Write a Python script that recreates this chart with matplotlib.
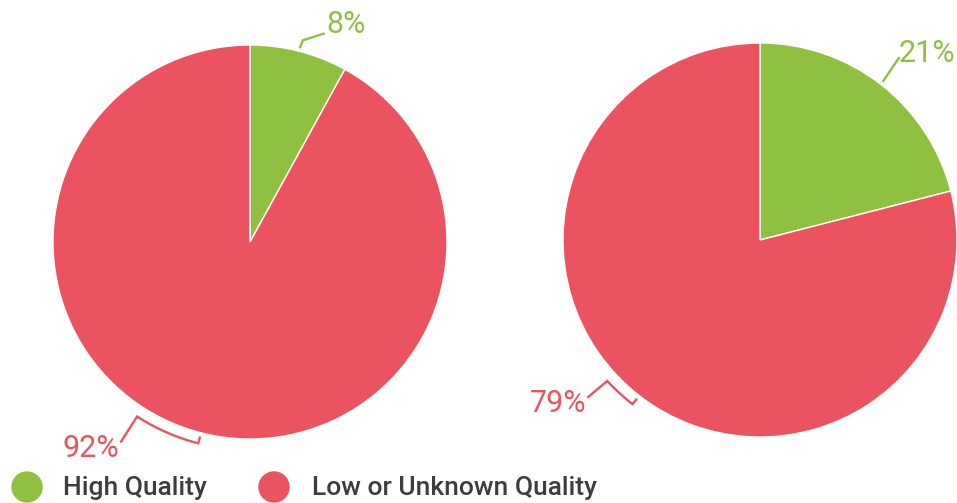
import numpy as np
import matplotlib
matplotlib.use("Agg")
import matplotlib.pyplot as plt
from matplotlib.patches import Circle

# share of high quality vs low/unknown quality, two groups
categories = ["High Quality", "Low or Unknown Quality"]
left_values = [8, 92]
right_values = [21, 79]
colors = ["#8FC03F", "#EC5360"]

W, H = 957, 503
R = 197
plt.rcParams["font.family"] = ["Roboto", "DejaVu Sans"]

fig = plt.figure(figsize=(W / 100, H / 100), dpi=100)
ax = fig.add_axes([0, 0, 1, 1])


def polar(c, r, ang):
    a = np.deg2rad(ang)
    return np.array([c[0] + r * np.cos(a), c[1] + r * np.sin(a)])


def mid_angles(vals):
    tot = sum(vals)
    out, start = [], 90.0
    for v in vals:
        sweep = 360.0 * v / tot
        out.append(start - sweep / 2)
        start -= sweep
    return out


def small_label(c, ang, text, col, path, txt_off, va):
    # short leader from the rim, then text
    p = polar(c, R * 1.015, ang)
    pts = [p]
    for d in path:
        pts.append(pts[-1] + np.array(d))
    pts = np.array(pts)
    ax.plot(pts[:, 0], pts[:, 1], color=col, lw=1.7, solid_capstyle="butt")
    end = pts[-1]
    ax.text(end[0] + txt_off[0], end[1] + txt_off[1], text, color=col,
            fontsize=22, ha="left", va=va)


def big_label(c, ang, text, col, sweep, lead):
    # bracket along the rim with a tick at the slice middle
    angs = np.linspace(ang, ang - sweep, 30)
    arc = np.array([polar(c, R * 1.055, a) for a in angs])
    tick = polar(c, R * 1.025, ang)
    pts = np.vstack([tick, arc])
    end = pts[-1] + np.array(lead)
    pts = np.vstack([pts, end])
    ax.plot(pts[:, 0], pts[:, 1], color=col, lw=1.7, solid_joinstyle="miter")
    ax.text(end[0] - 2, end[1] - 7, text, color=col, fontsize=22,
            ha="right", va="center")


c_left = (250, H - 242)
c_right = (760, H - 240)

wp = dict(edgecolor="white", linewidth=1)
ax.pie(left_values, colors=colors, startangle=90, counterclock=False,
       center=c_left, radius=R, wedgeprops=wp)
ax.pie(right_values, colors=colors, startangle=90, counterclock=False,
       center=c_right, radius=R, wedgeprops=wp)

ml = mid_angles(left_values)
mr = mid_angles(right_values)
small_label(c_left, ml[0], f"{left_values[0]}%", colors[0],
            [(3, 8), (22, 7)], (2, 0), "baseline")
small_label(c_right, mr[0], f"{right_values[0]}%", colors[0],
            [(17, 25)], (-1, 4), "center")
big_label(c_left, ml[1], f"{left_values[1]}%", colors[1], 18.5, (-16, -25))
big_label(c_right, mr[1], f"{right_values[1]}%", colors[1], 9.5, (-19, -16))

# legend
for x0, tx, cat, col in [(27, 63, categories[0], colors[0]),
                         (274, 312, categories[1], colors[1])]:
    ax.add_patch(Circle((x0, H - 487), 15, color=col))
    ax.text(tx, H - 488, cat, color="#3d3d3d", fontsize=19,
            fontweight="medium", ha="left", va="center")

ax.set_xlim(0, W)
ax.set_ylim(0, H)
ax.set_aspect("equal")
ax.axis("off")

fig.savefig("out.png", dpi=100, facecolor="white")
